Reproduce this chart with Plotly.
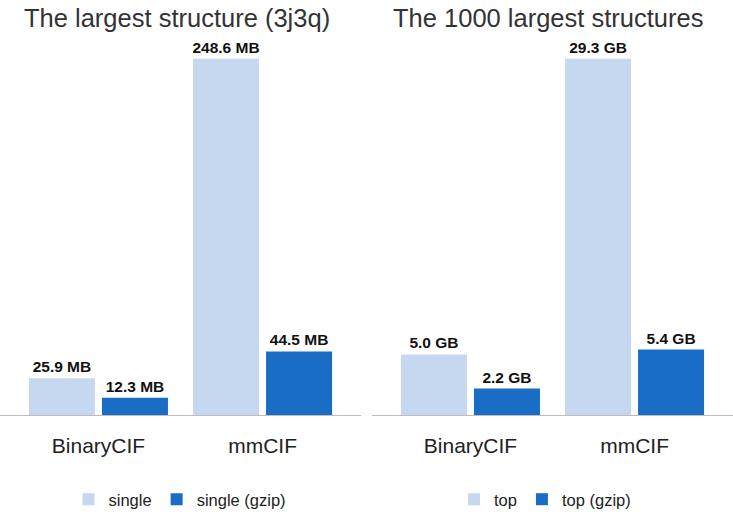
import plotly.graph_objects as go
from plotly.subplots import make_subplots

categories = ["BinaryCIF", "mmCIF"]
left_single = [25.9, 248.6]
left_gzip = [12.3, 44.5]
right_top = [5.0, 29.3]
right_gzip = [2.2, 5.4]
left_title = "The largest structure (3j3q)"
right_title = "The 1000 largest structures"

LIGHT = "#c6d7f0"
DARK = "#1a6dc4"
FONT = "Liberation Sans, Arial, sans-serif"
W, H = 733, 517
K = 0.985


def py(p):
    """paper y fraction for a target pixel row p measured from the top"""
    return (H - p / K) / H


fig = make_subplots(rows=1, cols=2)


def fmt(vals, unit):
    return [f"<b>{v:.1f} {unit}</b>" for v in vals]


fig.add_trace(go.Bar(x=categories, y=left_single, name="single", marker_color=LIGHT,
                     text=fmt(left_single, "MB"), legend="legend"), row=1, col=1)
fig.add_trace(go.Bar(x=categories, y=left_gzip, name="single (gzip)", marker_color=DARK,
                     text=fmt(left_gzip, "MB"), legend="legend"), row=1, col=1)
fig.add_trace(go.Bar(x=categories, y=right_top, name="top", marker_color=LIGHT,
                     text=fmt(right_top, "GB"), legend="legend2"), row=1, col=2)
fig.add_trace(go.Bar(x=categories, y=right_gzip, name="top (gzip)", marker_color=DARK,
                     text=fmt(right_gzip, "GB"), legend="legend2"), row=1, col=2)

fig.update_traces(textposition="outside", cliponaxis=False, constraintext="none",
                  textfont=dict(family=FONT, size=15.5, color="#111"), marker_line_width=0,
                  hoverinfo="skip")

xaxis_common = dict(range=[-0.6, 1.6], showgrid=False, zeroline=False, showline=True,
                    linecolor="#bdbdbd", linewidth=1, ticks="outside", ticklen=11,
                    tickcolor="rgba(0,0,0,0)",
                    tickfont=dict(family=FONT, size=21, color="#222"), fixedrange=True)
fig.update_xaxes(**xaxis_common)
fig.layout.xaxis.domain = [0, 361 / W]
fig.layout.xaxis2.domain = [372 / W, 1]
fig.update_yaxes(visible=False, showgrid=False, zeroline=False,
                 domain=[py(418), py(59)], fixedrange=True)
fig.layout.yaxis.range = [0, left_single[1]]
fig.layout.yaxis2.range = [0, right_top[1]]

legend_common = dict(orientation="h", xanchor="center", y=py(503), yanchor="middle",
                     font=dict(family=FONT, size=16.5, color="#222"), itemwidth=30,
                     bgcolor="rgba(0,0,0,0)")

fig.update_layout(
    width=W, height=H,
    margin=dict(l=0, r=0, t=0, b=0),
    paper_bgcolor="white", plot_bgcolor="white",
    bargap=0.11, bargroupgap=0.096,
    barmode="group",
    showlegend=True,
    legend=dict(x=180 / W, **legend_common),
    legend2=dict(x=545 / W, **legend_common),
    annotations=[
        dict(text=left_title, x=22 / W, y=py(18), xref="paper", yref="paper",
             xanchor="left", yanchor="middle", showarrow=False,
             font=dict(family=FONT, size=25.5, color="#333")),
        dict(text=right_title, x=391 / W, y=py(18), xref="paper", yref="paper",
             xanchor="left", yanchor="middle", showarrow=False,
             font=dict(family=FONT, size=25.5, color="#333")),
    ],
)

fig.write_html("out.html", config={"displayModeBar": False},
               post_script="document.body.style.margin='0px';document.body.style.overflow='hidden';")
